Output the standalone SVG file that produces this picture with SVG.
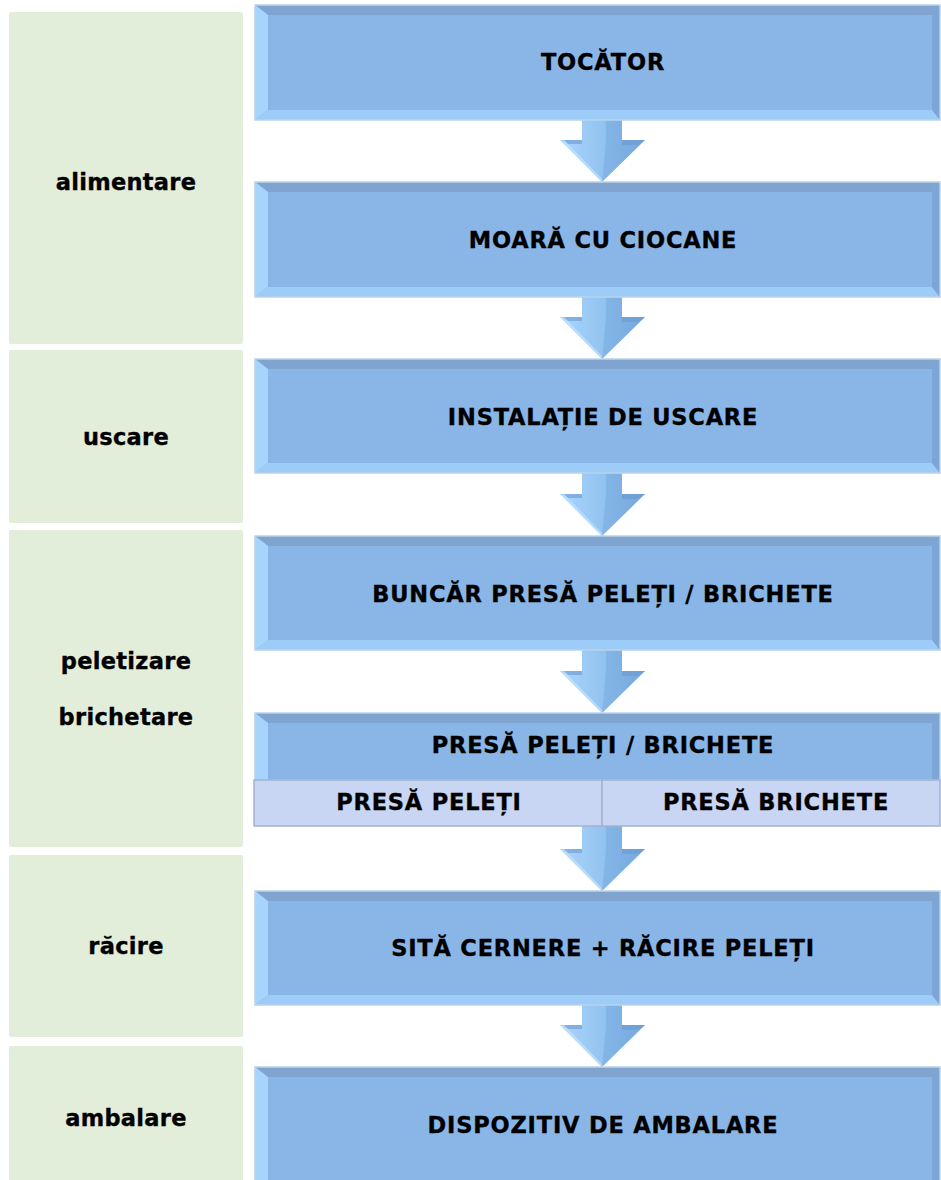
<svg xmlns="http://www.w3.org/2000/svg" width="941" height="1180" viewBox="0 0 941 1180">
  <style>
    .lbl { font-family: "DejaVu Sans", Verdana, sans-serif; font-weight: bold; font-size: 22.5px; fill: #000; stroke: #000; stroke-width: 0.35; text-anchor: middle; letter-spacing: 0.8px; }
    .ph { letter-spacing: 0.3px; }
    .phase { fill: #E2EED9; }
    .face { fill: #89B6E7; }
    .bev-top { fill: #7EA4CF; }
    .bev-left { fill: #A6D4FC; }
    .bev-bottom { fill: #9CCCF7; }
    .bev-right { fill: #7DA6D6; }
    .edge { fill: none; stroke: #B9D3E8; stroke-width: 1.5; }
    .sub { fill: #C8D6F4; stroke: #A3B3CE; stroke-width: 1.5; }
  </style>
  <defs>
    <linearGradient id="arrowFill" x1="0" y1="0" x2="1" y2="0">
      <stop offset="0" stop-color="#A9D6FD"/>
      <stop offset="0.5" stop-color="#93C3F0"/>
      <stop offset="1" stop-color="#7BAEE3"/>
    </linearGradient>
    <!-- down arrow, origin at the tip -->
    <g id="downArrow">
      <polygon points="-20,-80 20,-80 20,-42 43,-42 0,0 -42,-42 -20,-42" fill="url(#arrowFill)"/>
      <polygon points="4,-80 20,-80 20,-42 43,-42 0,0 4,-42" fill="#6E9FD6" opacity="0.35"/>
      <polygon points="-42,-42 -20,-42 -20,-38 -34,-38" fill="#6A9AD0" opacity="0.6"/>
      <polygon points="20,-42 43,-42 36,-37 20,-37" fill="#6A9AD0" opacity="0.6"/>
      <polygon points="-42,-42 -38,-42 0,-3 0,0" fill="#C2E4FF" opacity="0.7"/>
    </g>
  </defs>

  <rect width="941" height="1180" fill="#FFFFFF"/>

  <!-- phase column -->
  <g id="phases">
    <g id="phase-alimentare">
      <rect class="phase" x="9" y="12" width="234" height="332" rx="2"/>
      <text class="lbl ph" x="126" y="190">alimentare</text>
    </g>
    <g id="phase-uscare">
      <rect class="phase" x="9" y="350" width="234" height="173" rx="2"/>
      <text class="lbl ph" x="126" y="445">uscare</text>
    </g>
    <g id="phase-peletizare">
      <rect class="phase" x="9" y="530" width="234" height="317" rx="2"/>
      <text class="lbl ph" x="126" y="669">peletizare</text>
      <text class="lbl ph" x="126" y="725">brichetare</text>
    </g>
    <g id="phase-racire">
      <rect class="phase" x="9" y="855" width="234" height="182" rx="2"/>
      <text class="lbl ph" x="126" y="954">răcire</text>
    </g>
    <g id="phase-ambalare">
      <rect class="phase" x="9" y="1046" width="234" height="140" rx="2"/>
      <text class="lbl ph" x="126" y="1126">ambalare</text>
    </g>
  </g>

  <!-- flow arrows between stations -->
  <g id="connectors">
    <use href="#downArrow" transform="translate(602,182)"/>
    <use href="#downArrow" transform="translate(602,359)"/>
    <use href="#downArrow" transform="translate(602,536)"/>
    <use href="#downArrow" transform="translate(602,713)"/>
    <use href="#downArrow" transform="translate(602,891)"/>
    <use href="#downArrow" transform="translate(602,1067)"/>
  </g>

  <!-- stations -->
  <g id="tocator">
    <rect class="face" x="255" y="5" width="685" height="115"/>
    <polygon class="bev-top" points="255,5 940,5 932,15 268,15"/>
    <polygon class="bev-left" points="255,5 268,15 268,110 255,120"/>
    <polygon class="bev-bottom" points="255,120 268,110 932,110 940,120"/>
    <polygon class="bev-right" points="940,5 940,120 932,110 932,15"/>
    <rect class="edge" x="255" y="5" width="685" height="115"/>
    <text class="lbl" x="603" y="70">TOCĂTOR</text>
  </g>

  <g id="moara">
    <rect class="face" x="255" y="182" width="685" height="115"/>
    <polygon class="bev-top" points="255,182 940,182 932,192 268,192"/>
    <polygon class="bev-left" points="255,182 268,192 268,287 255,297"/>
    <polygon class="bev-bottom" points="255,297 268,287 932,287 940,297"/>
    <polygon class="bev-right" points="940,182 940,297 932,287 932,192"/>
    <rect class="edge" x="255" y="182" width="685" height="115"/>
    <text class="lbl" x="603" y="248">MOARĂ CU CIOCANE</text>
  </g>

  <g id="uscare">
    <rect class="face" x="255" y="359" width="685" height="114"/>
    <polygon class="bev-top" points="255,359 940,359 932,369 268,369"/>
    <polygon class="bev-left" points="255,359 268,369 268,463 255,473"/>
    <polygon class="bev-bottom" points="255,473 268,463 932,463 940,473"/>
    <polygon class="bev-right" points="940,359 940,473 932,463 932,369"/>
    <rect class="edge" x="255" y="359" width="685" height="114"/>
    <text class="lbl" x="603" y="425">INSTALAȚIE DE USCARE</text>
  </g>

  <g id="buncar">
    <rect class="face" x="255" y="536" width="685" height="114"/>
    <polygon class="bev-top" points="255,536 940,536 932,546 268,546"/>
    <polygon class="bev-left" points="255,536 268,546 268,640 255,650"/>
    <polygon class="bev-bottom" points="255,650 268,640 932,640 940,650"/>
    <polygon class="bev-right" points="940,536 940,650 932,640 932,546"/>
    <rect class="edge" x="255" y="536" width="685" height="114"/>
    <text class="lbl" x="603" y="602">BUNCĂR PRESĂ PELEȚI / BRICHETE</text>
  </g>

  <g id="presa">
    <rect class="face" x="255" y="713" width="685" height="70"/>
    <polygon class="bev-top" points="255,713 940,713 932,723 268,723"/>
    <polygon class="bev-left" points="255,713 268,723 268,780 255,780"/>
    <polygon class="bev-right" points="940,713 940,780 932,780 932,723"/>
    <rect class="edge" x="255" y="713" width="685" height="67"/>
    <text class="lbl" x="603" y="753">PRESĂ PELEȚI / BRICHETE</text>
    <g id="presa-peleti">
      <rect class="sub" x="254" y="780" width="348" height="46"/>
      <text class="lbl" x="429" y="810">PRESĂ PELEȚI</text>
    </g>
    <g id="presa-brichete">
      <rect class="sub" x="602" y="780" width="338" height="46"/>
      <text class="lbl" x="776" y="810">PRESĂ BRICHETE</text>
    </g>
  </g>

  <g id="sita">
    <rect class="face" x="255" y="891" width="685" height="114"/>
    <polygon class="bev-top" points="255,891 940,891 932,901 268,901"/>
    <polygon class="bev-left" points="255,891 268,901 268,995 255,1005"/>
    <polygon class="bev-bottom" points="255,1005 268,995 932,995 940,1005"/>
    <polygon class="bev-right" points="940,891 940,1005 932,995 932,901"/>
    <rect class="edge" x="255" y="891" width="685" height="114"/>
    <text class="lbl" x="603" y="956">SITĂ CERNERE + RĂCIRE PELEȚI</text>
  </g>

  <g id="ambalare">
    <rect class="face" x="255" y="1067" width="685" height="120"/>
    <polygon class="bev-top" points="255,1067 940,1067 932,1077 268,1077"/>
    <polygon class="bev-left" points="255,1067 268,1077 268,1187 255,1187"/>
    <polygon class="bev-right" points="940,1067 940,1187 932,1187 932,1077"/>
    <rect class="edge" x="255" y="1067" width="685" height="125"/>
    <text class="lbl" x="603" y="1133">DISPOZITIV DE AMBALARE</text>
  </g>
</svg>
